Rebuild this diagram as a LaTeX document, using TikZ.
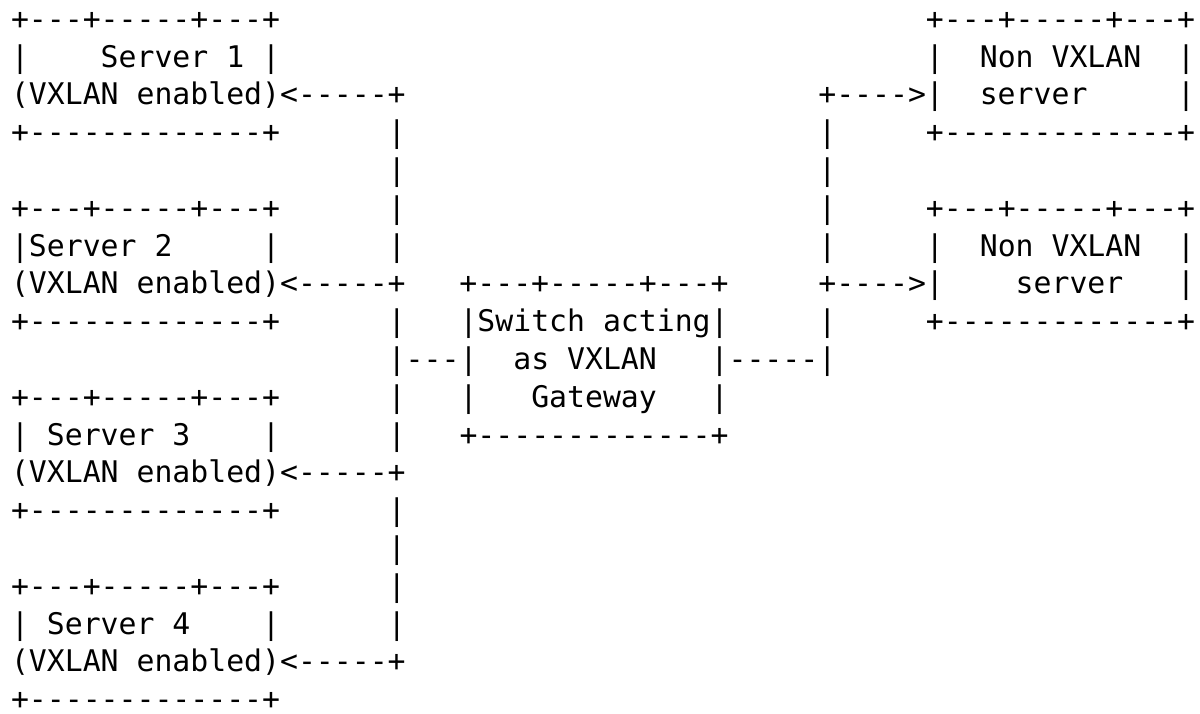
\documentclass[tikz,border=0pt]{standalone}
\usepackage{fontspec}
\newfontfamily\asciifont{DejaVu Sans Mono}[Ligatures=TeXOff]
\newcommand\colsp[1]{\hskip #1\fontcharwd\font`M\relax}
\tikzset{
  asciirow/.style={anchor=base west, inner sep=0pt, outer sep=0pt,
    font=\asciifont\fontsize{14.9pt}{19pt}\selectfont, text=black},
}
\begin{document}
\begin{tikzpicture}[x=1pt,y=1pt]
\useasboundingbox (0,0) rectangle (600,-356.5);
\def\rx{5.5}
\def\ry{14.6}
\def\rp{18.9}
\node[asciirow] (r0) at (\rx,{-\ry-0*\rp}) {+---+-----+---+\colsp{36}+---+-----+---+};
\node[asciirow] (r1) at (\rx,{-\ry-1*\rp}) {|\colsp{4}Server~1~|\colsp{36}|\colsp{2}Non~VXLAN\colsp{2}|};
\node[asciirow] (r2) at (\rx,{-\ry-2*\rp}) {(VXLAN~enabled)<-----+\colsp{23}+---->|\colsp{2}server\colsp{5}|};
\node[asciirow] (r3) at (\rx,{-\ry-3*\rp}) {+-------------+\colsp{6}|\colsp{23}|\colsp{5}+-------------+};
\node[asciirow] (r4) at (\rx,{-\ry-4*\rp}) {\colsp{21}|\colsp{23}|};
\node[asciirow] (r5) at (\rx,{-\ry-5*\rp}) {+---+-----+---+\colsp{6}|\colsp{23}|\colsp{5}+---+-----+---+};
\node[asciirow] (r6) at (\rx,{-\ry-6*\rp}) {|Server~2\colsp{5}|\colsp{6}|\colsp{23}|\colsp{5}|\colsp{2}Non~VXLAN\colsp{2}|};
\node[asciirow] (r7) at (\rx,{-\ry-7*\rp}) {(VXLAN~enabled)<-----+\colsp{3}+---+-----+---+\colsp{5}+---->|\colsp{4}server\colsp{3}|};
\node[asciirow] (r8) at (\rx,{-\ry-8*\rp}) {+-------------+\colsp{6}|\colsp{3}|Switch~acting|\colsp{5}|\colsp{5}+-------------+};
\node[asciirow] (r9) at (\rx,{-\ry-9*\rp}) {\colsp{21}|---|\colsp{2}as~VXLAN\colsp{3}|-----|};
\node[asciirow] (r10) at (\rx,{-\ry-10*\rp}) {+---+-----+---+\colsp{6}|\colsp{3}|\colsp{3}Gateway\colsp{3}|};
\node[asciirow] (r11) at (\rx,{-\ry-11*\rp}) {|~Server~3\colsp{4}|\colsp{6}|\colsp{3}+-------------+};
\node[asciirow] (r12) at (\rx,{-\ry-12*\rp}) {(VXLAN~enabled)<-----+};
\node[asciirow] (r13) at (\rx,{-\ry-13*\rp}) {+-------------+\colsp{6}|};
\node[asciirow] (r14) at (\rx,{-\ry-14*\rp}) {\colsp{21}|};
\node[asciirow] (r15) at (\rx,{-\ry-15*\rp}) {+---+-----+---+\colsp{6}|};
\node[asciirow] (r16) at (\rx,{-\ry-16*\rp}) {|~Server~4\colsp{4}|\colsp{6}|};
\node[asciirow] (r17) at (\rx,{-\ry-17*\rp}) {(VXLAN~enabled)<-----+};
\node[asciirow, text depth=0pt] (r18) at (\rx,{-\ry-18*\rp}) {+-------------+};
\end{tikzpicture}
\end{document}
